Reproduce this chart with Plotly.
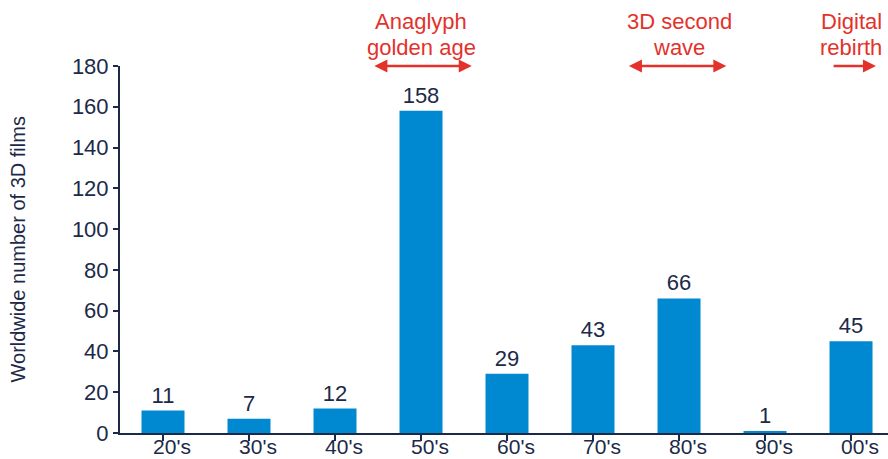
import plotly.graph_objects as go

decades = ["20's", "30's", "40's", "50's", "60's", "70's", "80's", "90's", "00's"]
films = [11, 7, 12, 158, 29, 43, 66, 1, 45]
eras = [("Anaglyph", "golden age"), ("3D second", "wave"), ("Digital", "rebirth")]
era_center = [3, 6, 8]
era_start = [2.44, 5.40, 7.78]
era_end = [3.59, 6.55, 8.29]
era_both = [True, True, False]

NAVY = "#1c2a48"
RED = "#e3322b"
BLUE = "#0088d1"
FONT = "Liberation Sans, Arial, sans-serif"

fig = go.Figure()
fig.add_trace(go.Bar(
    x=list(range(len(decades))), y=films, text=[str(v) for v in films],
    textposition="outside", textfont=dict(size=22, color=NAVY, family=FONT),
    marker=dict(color=BLUE, line=dict(width=0)), width=0.5, cliponaxis=False,
))

for (l1, l2), c, s, e, both in zip(eras, era_center, era_start, era_end, era_both):
    for txt, shift in ((l1, 30), (l2, 4)):
        fig.add_annotation(x=c, y=180, xref="x", yref="y", yanchor="bottom", yshift=shift,
                           text=txt, showarrow=False,
                           font=dict(size=22, color=RED, family=FONT), align="center")
    fig.add_annotation(x=e, y=180, ax=s, ay=180, xref="x", yref="y", axref="x", ayref="y",
                       text="", showarrow=True, arrowhead=2, arrowsize=1.0, arrowwidth=2.6,
                       arrowcolor=RED, arrowside="end+start" if both else "end",
                       startarrowhead=2, startarrowsize=1.0)

fig.add_annotation(x=-(120 - 17) / 768, y=0.5, xref="paper", yref="paper",
                   text="Worldwide number of 3D films", textangle=-90, showarrow=False,
                   font=dict(size=20, color=NAVY, family=FONT), xanchor="center", yanchor="middle")

fig.update_layout(
    width=888, height=459, margin=dict(l=120, r=0, t=66, b=26),
    paper_bgcolor="white", plot_bgcolor="white", showlegend=False,
    font=dict(family=FONT, color=NAVY, size=22),
    bargap=0.5,
)
fig.update_xaxes(range=[-0.5, 8.43], tickmode="array", tickvals=list(range(len(decades))),
                 ticktext=decades, tickson="boundaries", ticks="outside", ticklen=6,
                 tickwidth=1.5, tickcolor=NAVY, showline=True, linecolor=NAVY, linewidth=2,
                 showgrid=False, zeroline=False, tickfont=dict(size=21, color=NAVY),
                 ticklabelstandoff=-12, ticklabelshift=9, automargin=False)
fig.update_yaxes(range=[0, 180], dtick=20, ticks="outside", ticklen=5, tickwidth=1.5,
                 tickcolor=NAVY, showline=True, linecolor=NAVY, linewidth=2, showgrid=False,
                 zeroline=False, tickfont=dict(size=22, color=NAVY), automargin=False)
fig.write_html("out.html")
